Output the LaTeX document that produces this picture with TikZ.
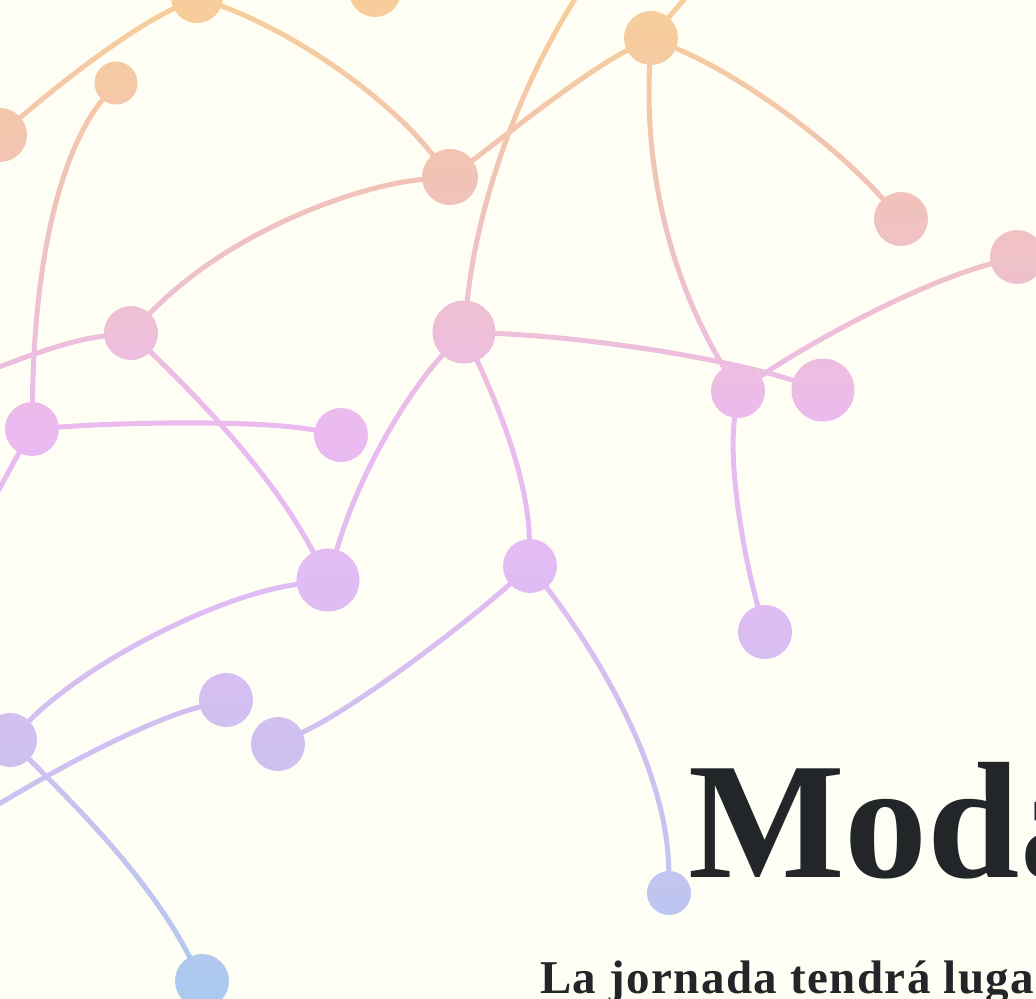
\documentclass[tikz,border=0pt]{standalone}
\usepackage{fontspec}
\usetikzlibrary{fadings}
\newfontfamily\dispfont{Liberation Serif}
\newfontfamily\subfont[LetterSpace=3]{Liberation Serif}
\definecolor{bgcol}{HTML}{FFFEF5}
\definecolor{ink}{HTML}{222628}
\definecolor{g0}{HTML}{F7CE9A}
\definecolor{g1}{HTML}{F6CC9E}
\definecolor{g2}{HTML}{F1C3B6}
\definecolor{g3}{HTML}{EEBFD8}
\definecolor{g4}{HTML}{EBBAF0}
\definecolor{g5}{HTML}{E1BCF4}
\definecolor{g6}{HTML}{D3BFF0}
\definecolor{g7}{HTML}{C0C5F0}
\definecolor{g8}{HTML}{A8CAEE}
\pgfdeclareverticalshading{netgrad}{100bp}{color(0bp)=(g8); color(25bp)=(g8); color(30.4bp)=(g7); color(40bp)=(g6); color(46bp)=(g5); color(53.6bp)=(g4); color(58.4bp)=(g3); color(66.1bp)=(g2); color(73.1bp)=(g1); color(75bp)=(g0); color(100bp)=(g0)}
\tikzset{
  dot/.style={circle, fill=white, draw=none, inner sep=0pt, minimum size=#1},
  edge/.style={draw=white, line width=5bp, line cap=round},
  titletext/.style={anchor=base west, inner sep=0pt, text=ink, font=\dispfont\bfseries\fontsize{166bp}{166bp}\selectfont},
  subtext/.style={anchor=base west, inner sep=0pt, text=ink, font=\subfont\bfseries\fontsize{47bp}{47bp}\selectfont},
}
\begin{tikzfadingfrompicture}[name=net, x=1bp, y=-1bp]
\begin{scope}[shift={(-518,-499.5)}]
\useasboundingbox (0,0) rectangle (1036,999);
% nodes
\node[dot=52bp] (A) at (197,-3) {};
\node[dot=52bp] (B) at (375,-9) {};
\node[dot=54bp] (C) at (0,135) {};
\node[dot=43bp] (D) at (116,83) {};
\node[dot=56bp] (E) at (450,177) {};
\node[dot=54bp] (F) at (651,38) {};
\node[dot=54bp] (G) at (901,219) {};
\node[dot=54bp] (H) at (1017,257) {};
\node[dot=54bp] (I) at (131,333) {};
\node[dot=63bp] (J) at (464,332) {};
\node[dot=54bp] (K) at (32,429) {};
\node[dot=54bp] (L) at (341,435) {};
\node[dot=63bp] (M) at (328,580) {};
\node[dot=54bp] (N) at (738,391) {};
\node[dot=63bp] (O) at (823,390) {};
\node[dot=54bp] (P) at (530,566) {};
\node[dot=54bp] (Q) at (765,632) {};
\node[dot=54bp] (R) at (10,740) {};
\node[dot=54bp] (S) at (226,700) {};
\node[dot=54bp] (T) at (278,744) {};
\node[dot=54bp] (U) at (202,981) {};
\node[dot=44bp] (V) at (669,893) {};
\coordinate (Ft) at (705,-25);
\coordinate (Jt) at (625,-70);
\coordinate (I0) at (-30,378);
\coordinate (K0) at (-15,515);
\coordinate (S0) at (-30,822);
% connectors
\draw[edge] (C) .. controls (70,75) and (130,30) .. (A);
\draw[edge] (A) .. controls (300,35) and (390,100) .. (E);
\draw[edge] (E) .. controls (500,140) and (580,75) .. (F);
\draw[edge] (F) -- (Ft);
\draw[edge] (J) .. controls (480,180) and (540,30) .. (Jt);
\draw[edge] (F) .. controls (740,75) and (830,140) .. (G);
\draw[edge] (F) .. controls (645,160) and (665,270) .. (N);
\draw[edge] (D) .. controls (70,140) and (35,230) .. (K);
\draw[edge] (E) .. controls (360,185) and (230,230) .. (I);
\draw[edge] (I0) .. controls (30,355) and (70,340) .. (I);
\draw[edge] (I) .. controls (190,390) and (270,470) .. (M);
\draw[edge] (K) .. controls (130,422) and (260,420) .. (L);
\draw[edge] (K) -- (K0);
\draw[edge] (J) .. controls (410,390) and (360,470) .. (M);
\draw[edge] (J) .. controls (500,410) and (528,480) .. (P);
\draw[edge] (J) .. controls (600,338) and (730,360) .. (O);
\draw[edge] (N) .. controls (830,330) and (930,280) .. (H);
\draw[edge] (N) .. controls (728,470) and (745,560) .. (Q);
\draw[edge] (M) .. controls (220,595) and (90,660) .. (R);
\draw[edge] (P) .. controls (470,620) and (360,705) .. (T);
\draw[edge] (P) .. controls (610,670) and (668,780) .. (V);
\draw[edge] (S) .. controls (150,720) and (60,765) .. (S0);
\draw[edge] (R) .. controls (80,810) and (150,880) .. (U);
\end{scope}
\end{tikzfadingfrompicture}
\begin{document}
\begin{tikzpicture}[x=1bp, y=-1bp]
% the picture's origin is the centre of the canvas
\useasboundingbox (-518,-499.5) rectangle (518,499.5);
\clip (-518,-499.5) rectangle (518,499.5);
\fill[bgcol] (-518,-499.5) rectangle (518,499.5);
\shade[shading=netgrad, path fading=net, fit fading=false] (-518,-499.5) rectangle (518,499.5);
\begin{scope}[shift={(-518,-499.5)}]
\node[titletext] (title) at (688,877) {Moda};
\node[subtext] (subtitle) at (540,993) {La jornada tendrá luga};
\end{scope}
\end{tikzpicture}
\end{document}
